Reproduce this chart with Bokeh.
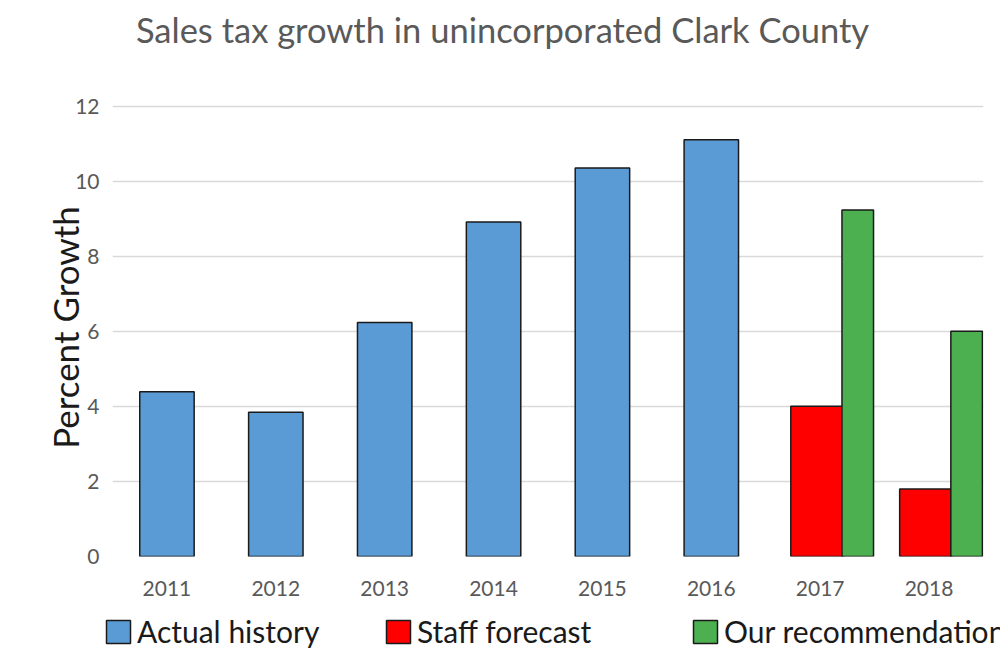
from bokeh.plotting import figure
from bokeh.models import (FactorRange, Range1d, SingleIntervalTicker, Legend, LegendItem,
                          ColumnDataSource, Label)
from bokeh.layouts import column
from bokeh.transform import dodge
from bokeh.embed import file_html
from bokeh.resources import INLINE

years = ["2011", "2012", "2013", "2014", "2015", "2016", "2017", "2018"]
history_years = ["2011", "2012", "2013", "2014", "2015", "2016"]
history_values = [4.39, 3.84, 6.23, 8.91, 10.35, 11.10]
forecast_years = ["2017", "2018"]
staff_values = [4.0, 1.8]
recommend_values = [9.23, 6.0]
title_text = "Sales tax growth in unincorporated Clark County"
series_names = ["Actual history", "Staff forecast", "Our recommendation"]
series_colors = ["#5B9BD5", "#FF0000", "#4CAF50"]

FONT = "Lato"
GRAY = "#595959"
EDGE = "#1a1a1a"

src_h = ColumnDataSource(dict(x=history_years, top=history_values))
src_f = ColumnDataSource(dict(x=forecast_years, staff=staff_values, rec=recommend_values))
x_range = FactorRange(*years, range_padding=0)


def draw_bars(fig):
    r1 = fig.vbar(x="x", top="top", width=0.5, source=src_h, fill_color=series_colors[0],
                  line_color=EDGE, line_width=1.5)
    r2 = fig.vbar(x=dodge("x", -0.03, range=x_range), top="staff", width=0.48, source=src_f,
                  fill_color=series_colors[1], line_color=EDGE, line_width=1.5)
    r3 = fig.vbar(x=dodge("x", 0.345, range=x_range), top="rec", width=0.29, source=src_f,
                  fill_color=series_colors[2], line_color=EDGE, line_width=1.5)
    return [r1, r2, r3]


# ---------- header with title ----------
head = figure(width=1000, height=88, x_range=Range1d(0, 1000), y_range=Range1d(0, 88),
              output_backend="svg", toolbar_location=None, min_border=0)
head.frame_align = False
head.axis.visible = False
head.grid.visible = False
head.outline_line_color = None
head.add_layout(Label(x=502, y=59, text=title_text, text_align="center", text_baseline="middle",
                      text_font=FONT, text_font_size="34.5px", text_color=GRAY))

# ---------- main chart ----------
p = figure(width=1000, height=512, x_range=x_range,
           y_range=Range1d(0, 12.2), output_backend="svg", toolbar_location=None,
           min_border_left=112, min_border_right=17, min_border_top=10, min_border_bottom=44)
p.frame_align = False
p.outline_line_color = None
draw_bars(p)

p.yaxis.ticker = SingleIntervalTicker(interval=2)
p.yaxis.axis_line_color = None
p.yaxis.major_tick_line_color = None
p.yaxis.minor_tick_line_color = None
p.yaxis.major_label_text_font = FONT
p.yaxis.major_label_text_font_size = "21px"
p.yaxis.major_label_text_color = GRAY
p.yaxis.major_label_standoff = 7
p.yaxis.axis_label = "Percent Growth"
p.yaxis.axis_label_text_font = FONT
p.yaxis.axis_label_text_font_style = "normal"
p.yaxis.axis_label_text_font_size = "35px"
p.yaxis.axis_label_text_color = EDGE
p.yaxis.axis_label_standoff = -14

p.xaxis.axis_line_color = None
p.xaxis.major_tick_line_color = None
p.xaxis.minor_tick_line_color = None
p.xaxis.major_label_text_font = FONT
p.xaxis.major_label_text_font_size = "21px"
p.xaxis.major_label_text_color = GRAY
p.xaxis.major_label_standoff = 18

p.xgrid.grid_line_color = None
p.ygrid.grid_line_color = "#d9d9d9"
p.ygrid.grid_line_width = 1.5

# ---------- legend strip (same bar styles, renderers hidden) ----------
foot = figure(width=1000, height=72, x_range=x_range, y_range=Range1d(-101, -100),
              output_backend="svg", toolbar_location=None, min_border=0)
foot.frame_align = False
foot.axis.visible = False
foot.grid.visible = False
foot.outline_line_color = None
renderers = draw_bars(foot)
legend_x = [103, 383, 690]
for name, r, lx in zip(series_names, renderers, legend_x):
    r.visible = False
    lg = Legend(items=[LegendItem(label=name, renderers=[r])], location=(lx, 23),
                orientation="horizontal", padding=0, margin=0, spacing=0,
                glyph_width=30, glyph_height=29, label_standoff=4,
                label_text_font=FONT, label_text_font_size="30px", label_text_color=EDGE,
                inactive_fill_alpha=0,
                border_line_color=None, background_fill_alpha=0)
    foot.add_layout(lg, "center")

layout = column(head, p, foot, spacing=0)
open("out.html", "w").write(file_html(layout, INLINE))
